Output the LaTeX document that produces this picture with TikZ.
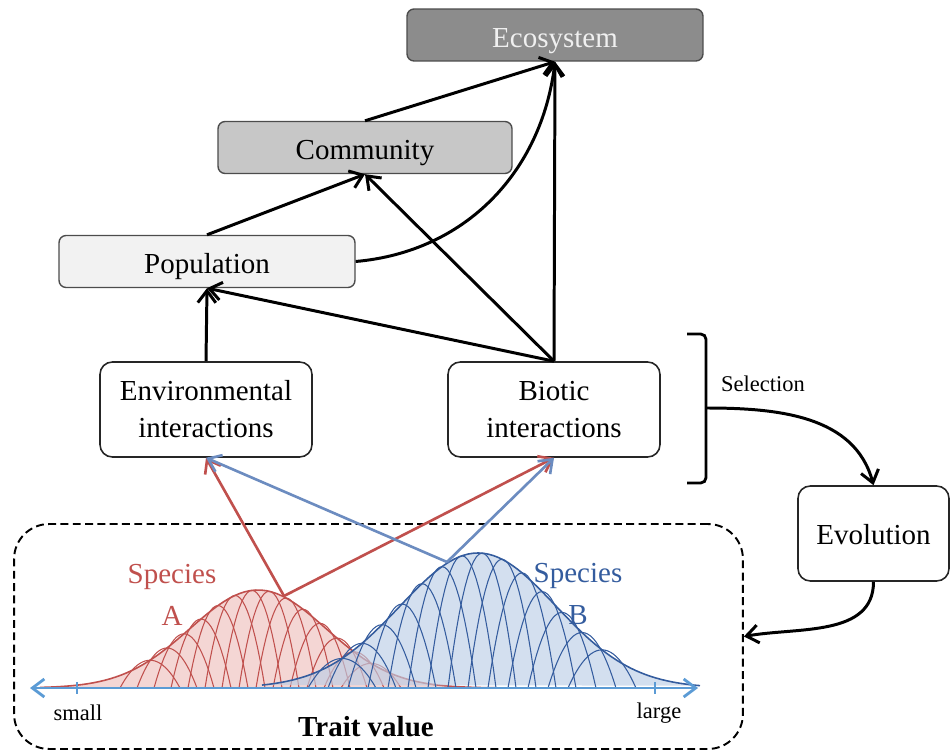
\documentclass[tikz,border=0pt]{standalone}
\usepackage{fontspec}
\setmainfont{Liberation Serif}
\usepackage{tikz}
\usetikzlibrary{arrows.meta}
\definecolor{spA}{RGB}{192,80,77}
\definecolor{spAfill}{RGB}{240,200,198}
\definecolor{spB}{RGB}{52,92,158}
\definecolor{spBfill}{RGB}{188,206,230}
\definecolor{spBarrow}{RGB}{108,140,192}
\definecolor{traitaxis}{RGB}{91,155,213}
\newcommand{\Lbl}{\fontsize{16.5}{21}\selectfont}
\newcommand{\Sml}{\fontsize{12.8}{15}\selectfont}
\tikzset{
    level/.style={draw=black!70, line width=0.8pt, rounded corners=4pt,
        minimum width=5.92cm, minimum height=1.04cm, font=\Lbl,
        text height=14.5pt, text depth=0.5pt},
    inter/.style={draw=black!85, line width=0.9pt, rounded corners=7pt,
        minimum width=4.24cm, minimum height=1.9cm, align=center, font=\Lbl},
    traitbox/.style={draw, dashed, dash pattern=on 4.5pt off 2.5pt, line width=1.1pt,
        rounded corners=0.7cm, minimum width=14.58cm, minimum height=4.5cm},
    link/.style={->, line width=1.7pt},
    linkA/.style={->, line width=1.5pt, spA},
    linkB/.style={->, line width=1.5pt, spBarrow},
}

\begin{document}
\begin{tikzpicture}[>={Straight Barb[length=2.4mm,width=3.6mm]}, x=0.02cm, y=-0.02cm]
    \useasboundingbox (0,0) rectangle (951,753);

    \draw(555,35) node[level, fill=black!45, text=black!6] (E) {Ecosystem};
    \draw(365,147.5) node[level, minimum width=5.88cm, fill=black!22] (C) {Community};
    \draw(207,261.5) node[level, fill=black!5] (P) {Population};

    \draw(206,409.5) node[inter] (Env) {Environmental\\interactions};
    \draw(554,409.5) node[inter] (Bio) {Biotic\\interactions};
    \draw(873.5,533.5) node[inter, minimum width=3.02cm, text height=13pt, text depth=0pt] (Evo) {Evolution};

    \draw[link] (Env.north) to (P.south);
    \draw[link] (P.north) to (C.south);
    \draw[link] (C.north) to (E.south);
    \draw[link] (P.east) to[out=5, in=-97] (E.south);
    \draw[link] (Bio.north) to (P.south);
    \draw[link] (Bio.north) to (C.south);
    \draw[link] (Bio.north) to (E.south);

    % selection bracket
    \draw[line width=1.6pt, rounded corners=3pt] (687,334) -| (706,483) -- (687,483);
    \coordinate (sel) at (706,408);
    \draw(763,384) node[font=\Sml] (S) {Selection};
    \draw[link] (sel) to[out=0, in=105] (Evo.north);

    % trait panel
    \draw(378.5,636.5) node[traitbox] (D) {};
    \draw[link] (Evo.south) to[out=-90, in=10] (D.east);

    \fill[spAfill, opacity=0.75] plot[domain=40:520, samples=90] (\x, {688-98*exp(-0.5*((\x-258)/68)^2)}) -- cycle;
    \foreach \c in {150,167,...,371} {
        \pgfmathsetmacro\h{98*exp(-0.5*((\c-258)/68)^2)}
        \draw[spA, line width=0.6pt] plot[domain=\c-30:\c+30, samples=25] (\x, {688-\h*(1-((\x-\c)/30)^2)});
    }
    \draw[spA, line width=0.9pt] plot[domain=40:520, samples=90] (\x, {688-98*exp(-0.5*((\x-258)/68)^2)});

    \fill[spBfill, opacity=0.65] plot[domain=262:700, samples=90] (\x, {688-135*exp(-0.5*((\x-478)/78)^2)}) -- cycle;
    \foreach \c in {342,362,...,602} {
        \pgfmathsetmacro\h{135*exp(-0.5*((\c-478)/78)^2)}
        \draw[spB, line width=0.6pt] plot[domain=\c-34:\c+34, samples=25] (\x, {688-\h*(1-((\x-\c)/34)^2)});
    }
    \draw[spB, line width=0.9pt] plot[domain=262:700, samples=90] (\x, {688-135*exp(-0.5*((\x-478)/78)^2)});

    \draw[traitaxis, line width=1.6pt, <->] (30,688) -- (698,688);
    \draw[traitaxis, line width=1.2pt] (77,682) -- (77,694);
    \draw[traitaxis, line width=1.2pt] (655,682) -- (655,694);

    \draw(172,595) node[spA, font=\fontsize{16.5}{24}\selectfont, align=center] (SA) {Species\\A};
    \draw(578,594) node[spB, font=\fontsize{16.5}{24}\selectfont, align=center] (SB) {Species\\B};
    \draw(78,713) node[font=\Sml] (lo) {small};
    \draw(659,713) node[font=\Sml] (hi) {large};
    \draw(366,727) node[font=\Lbl\bfseries] (T) {Trait value};

    \coordinate (a) at (284,596);
    \coordinate (b) at (447,562);
    \draw[linkA] (a) -- (Env.south);
    \draw[linkA] (a) -- (Bio.south);
    \draw[linkB] (b) -- (Env.south);
    \draw[linkB] (b) -- (Bio.south);

\end{tikzpicture}
\end{document}
